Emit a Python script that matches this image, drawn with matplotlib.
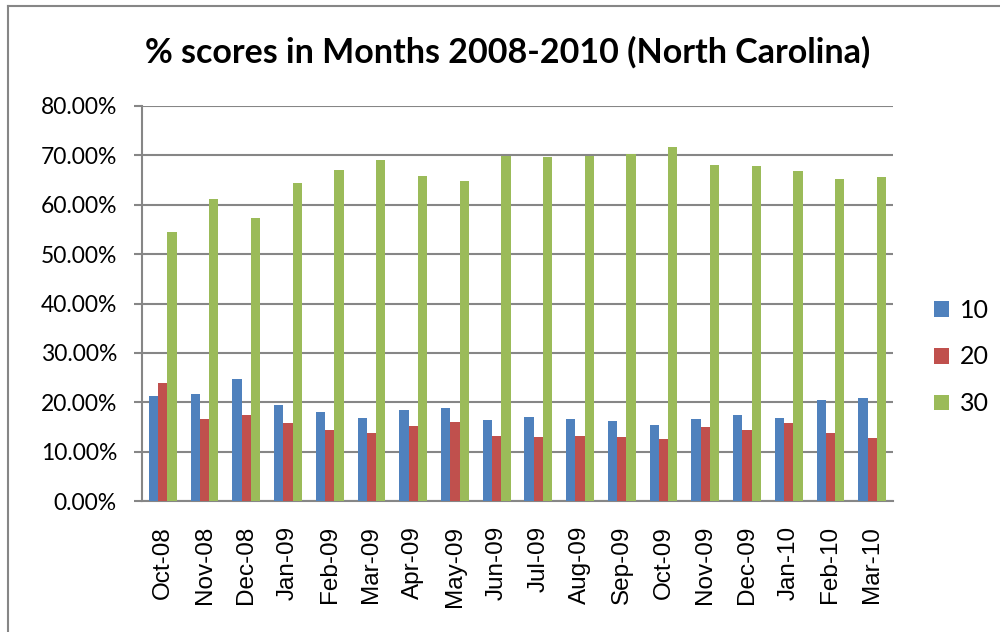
import numpy as np
import matplotlib
matplotlib.use("Agg")
import matplotlib.pyplot as plt
from matplotlib.lines import Line2D
from matplotlib.ticker import FuncFormatter

# values (fractions)
months = ["Oct-08", "Nov-08", "Dec-08", "Jan-09", "Feb-09", "Mar-09", "Apr-09", "May-09",
          "Jun-09", "Jul-09", "Aug-09", "Sep-09", "Oct-09", "Nov-09", "Dec-09", "Jan-10",
          "Feb-10", "Mar-10"]
score_10 = [0.212, 0.217, 0.247, 0.194, 0.181, 0.168, 0.185, 0.189, 0.165, 0.170, 0.167,
            0.163, 0.154, 0.166, 0.174, 0.169, 0.205, 0.209]
score_20 = [0.239, 0.167, 0.174, 0.158, 0.144, 0.138, 0.152, 0.159, 0.132, 0.130, 0.132,
            0.129, 0.125, 0.150, 0.144, 0.158, 0.138, 0.128]
score_30 = [0.545, 0.611, 0.574, 0.644, 0.670, 0.690, 0.659, 0.648, 0.699, 0.696, 0.698,
            0.703, 0.717, 0.681, 0.678, 0.669, 0.652, 0.657]
series_names = ["10", "20", "30"]
colors = ["#4F81BD", "#C0504D", "#9BBB59"]
grid_col = "#868686"

fig = plt.figure(figsize=(10, 6.32), dpi=100)
ax = fig.add_axes([0.142, 1 - 501 / 632, 0.893 - 0.142, (501 - 106) / 632])

x = np.arange(len(months))
w = 1 / 4.5
for i, vals in enumerate([score_10, score_20, score_30]):
    ax.bar(x + (i - 1) * w, vals, width=w, color=colors[i], label=series_names[i],
           edgecolor="none", zorder=3)

ax.set_xlim(-0.5, len(months) - 0.5)
ax.set_ylim(0, 0.8)
ax.set_yticks(np.arange(0, 0.81, 0.1))
ax.yaxis.set_major_formatter(FuncFormatter(lambda v, p: "%.2f%%" % (v * 100)))
ax.grid(axis="y", color=grid_col, linewidth=1.5, zorder=0)
ax.set_xticks(x)
ax.set_xticklabels(months, rotation=90, family="Liberation Sans", fontsize=17.5)
for lab in ax.get_yticklabels():
    lab.set_family("Lato")
    lab.set_fontsize(16.5)
ax.tick_params(axis="x", length=0, pad=18)
ax.tick_params(axis="y", length=6, width=1.5, color=grid_col, pad=12)

for s in ["top", "right"]:
    ax.spines[s].set_visible(False)
ax.spines["left"].set_color(grid_col)
ax.spines["left"].set_linewidth(1.5)
ax.spines["bottom"].set_color(grid_col)
ax.spines["bottom"].set_linewidth(1.5)

fig.text(0.508, 1 - 52 / 632, "% scores in Months 2008-2010 (North Carolina)",
         ha="center", va="center", fontsize=24.5, fontweight="bold", family="Lato")

leg = fig.legend(loc="center left", bbox_to_anchor=(0.921, 1 - 357 / 632), frameon=False,
                 prop={"family": "Lato", "size": 18}, handlelength=0.6, handleheight=0.6,
                 handletextpad=0.45, labelspacing=0.95, borderpad=0)

# outer chart border (top and left edges visible)
fig.add_artist(Line2D([0.008, 1], [1 - 6 / 632, 1 - 6 / 632], color=grid_col, lw=1.5))
fig.add_artist(Line2D([0.008, 0.008], [0, 1 - 6 / 632], color=grid_col, lw=1.5))

fig.savefig("out.png", dpi=100)
